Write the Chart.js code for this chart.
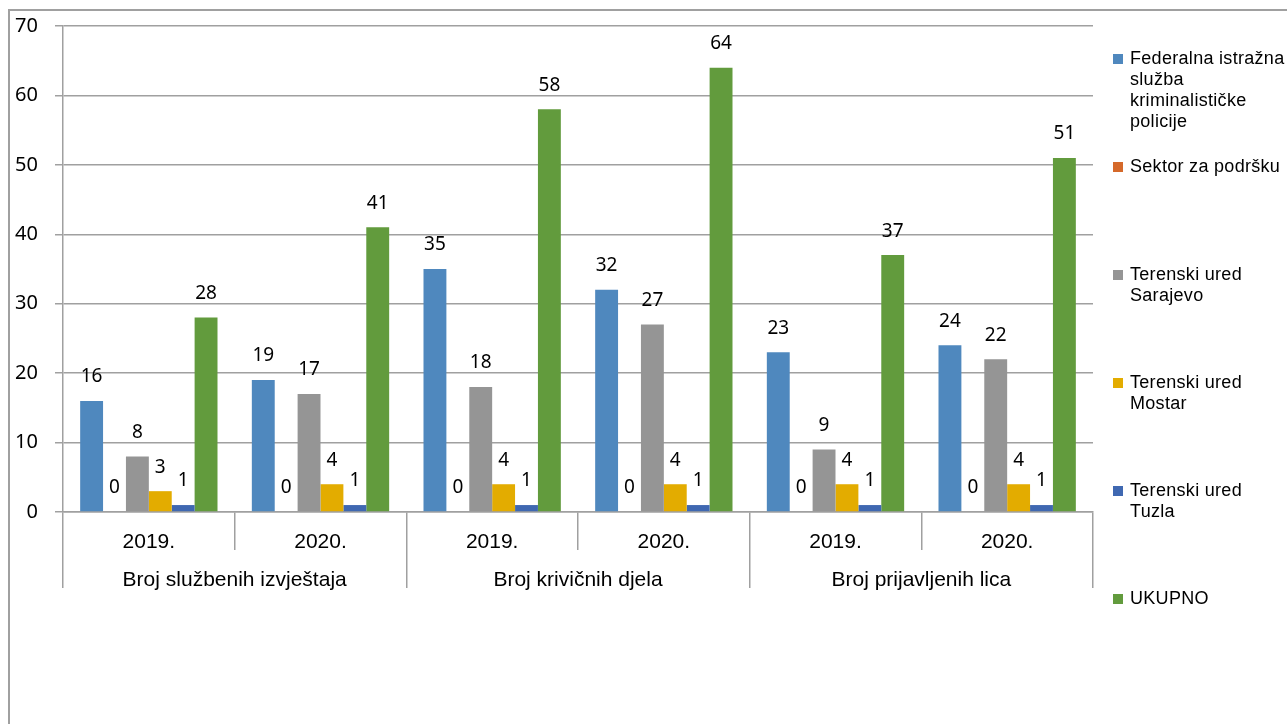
<!DOCTYPE html>
<html>
<head>
<meta charset="utf-8">
<script src="https://cdn.jsdelivr.net/npm/chart.js@4/dist/chart.umd.min.js"></script>
<style>
  html, body { margin: 0; padding: 0; background: #ffffff; }
  #wrap { position: relative; width: 1287px; height: 724px; }
  canvas { display: block; }
</style>
</head>
<body>
<div id="wrap"><canvas id="c" width="1287" height="724"></canvas></div>
<script>
// ---- data ----
const categories = ['2019.', '2020.', '2019.', '2020.', '2019.', '2020.'];
const groups = ['Broj službenih izvještaja', 'Broj krivičnih djela', 'Broj prijavljenih lica'];
const seriesNames = [
  'Federalna istražna služba kriminalističke policije',
  'Sektor za podršku',
  'Terenski ured Sarajevo',
  'Terenski ured Mostar',
  'Terenski ured Tuzla',
  'UKUPNO'
];
const federalna = [16, 19, 35, 32, 23, 24];
const sektor = [0, 0, 0, 0, 0, 0];
const sarajevo = [8, 17, 18, 27, 9, 22];
const mostar = [3, 4, 4, 4, 4, 4];
const tuzla = [1, 1, 1, 1, 1, 1];
const ukupno = [28, 41, 58, 64, 37, 51];
const yMin = 0, yMax = 70, yStep = 10;

const seriesValues = [federalna, sektor, sarajevo, mostar, tuzla, ukupno];
const seriesColors = ['#4F88BE', '#D5692A', '#959595', '#E3AC00', '#3F68B1', '#629B3D'];

const GRID = '#a0a0a0';
const NUM_FONT = '"Noto Sans", "Open Sans", sans-serif';
const TXT_FONT = '"Liberation Sans", Arial, sans-serif';
const CAT_SIZE = 21;
const CAT_PAD = -20;

const framePlugin = {
  id: 'frame',
  beforeDraw(chart) {
    const ctx = chart.ctx;
    ctx.save();
    ctx.strokeStyle = GRID;
    ctx.lineWidth = 2;
    ctx.beginPath();
    ctx.moveTo(9, chart.height + 2);
    ctx.lineTo(9, 10);
    ctx.lineTo(chart.width + 2, 10);
    ctx.stroke();
    ctx.restore();
  }
};

const valueLabels = {
  id: 'valueLabels',
  afterDatasetsDraw(chart) {
    const ctx = chart.ctx;
    ctx.save();
    ctx.font = '19px ' + NUM_FONT;
    ctx.fillStyle = '#000';
    ctx.textAlign = 'center';
    ctx.textBaseline = 'middle';
    chart.data.datasets.forEach((ds, di) => {
      const meta = chart.getDatasetMeta(di);
      meta.data.forEach((el, i) => {
        ctx.fillText(String(ds.data[i]), el.x, el.y - 24);
      });
    });
    ctx.restore();
  }
};

const sideLegend = {
  id: 'sideLegend',
  afterDraw(chart) {
    const ctx = chart.ctx;
    ctx.save();
    ctx.font = '18px ' + TXT_FONT;
    if ('letterSpacing' in ctx) ctx.letterSpacing = '0.3px';
    ctx.fillStyle = '#000';
    ctx.textAlign = 'left';
    ctx.textBaseline = 'middle';
    const x0 = 1113, tx = 1130, top = 59, step = 108, lh = 21, maxW = 160;
    chart.data.datasets.forEach((ds, i) => {
      const words = ds.label.split(' ');
      const lines = [];
      let cur = '';
      words.forEach(w => {
        const t = cur ? cur + ' ' + w : w;
        if (cur && ctx.measureText(t).width > maxW) { lines.push(cur); cur = w; }
        else cur = t;
      });
      if (cur) lines.push(cur);
      const y = top + i * step;
      ctx.fillStyle = ds.backgroundColor;
      ctx.fillRect(x0, y - 5, 10, 10);
      ctx.fillStyle = '#000';
      lines.forEach((ln, k) => ctx.fillText(ln, tx, y + k * lh));
    });
    ctx.restore();
  }
};

new Chart(document.getElementById('c'), {
  type: 'bar',
  data: {
    labels: categories,
    datasets: seriesNames.map((name, i) => ({
      label: name,
      data: seriesValues[i],
      backgroundColor: seriesColors[i],
      borderWidth: 0,
      barPercentage: 1.0,
      categoryPercentage: 0.8,
      xAxisID: 'x',
      yAxisID: 'y'
    }))
  },
  options: {
    responsive: false,
    animation: false,
    devicePixelRatio: 1,
    layout: { padding: { left: 0, right: 194, top: 26, bottom: 124 } },
    plugins: {
      legend: { display: false },
      tooltip: { enabled: false },
      title: { display: false }
    },
    scales: {
      y: {
        min: yMin, max: yMax,
        ticks: { stepSize: yStep, color: '#000', font: { family: NUM_FONT, size: 20 }, padding: 17 },
        grid: { color: GRID, lineWidth: 1.5, tickLength: 8, drawTicks: true },
        border: { color: GRID, width: 1.5 },
        afterFit(scale) { scale.width = 63; scale.paddingTop = 0; scale.paddingBottom = 0; }
      },
      x: {
        type: 'category',
        position: 'bottom',
        offset: true,
        ticks: { color: '#000', font: { family: TXT_FONT, size: CAT_SIZE }, padding: CAT_PAD, maxRotation: 0, autoSkip: false },
        grid: { offset: true, drawOnChartArea: false, drawTicks: true, tickLength: 38, color: GRID, lineWidth: 1.5 },
        border: { color: GRID, width: 1.5 },
        afterFit(scale) { scale.height = 38; }
      },
      x2: {
        type: 'category',
        position: 'bottom',
        labels: groups,
        offset: true,
        ticks: { color: '#000', font: { family: TXT_FONT, size: CAT_SIZE }, padding: CAT_PAD, maxRotation: 0, autoSkip: false },
        grid: { offset: true, drawOnChartArea: false, drawTicks: true, tickLength: 38, color: GRID, lineWidth: 1.5 },
        border: { display: false },
        afterFit(scale) { scale.height = 50; }
      }
    }
  },
  plugins: [framePlugin, valueLabels, sideLegend]
});
</script>
</body>
</html>
